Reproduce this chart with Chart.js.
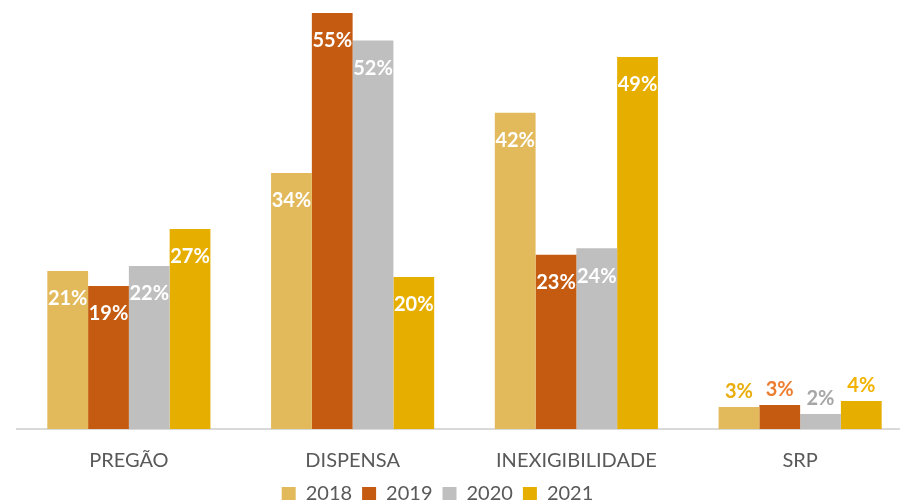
<!DOCTYPE html>
<html>
<head>
<meta charset="utf-8">
<script src="https://cdn.jsdelivr.net/npm/chart.js@4.4.1/dist/chart.umd.min.js"></script>
<style>
  html, body { margin: 0; padding: 0; background: #ffffff; overflow: hidden; }
  #wrap { position: relative; width: 912px; height: 500px; }
</style>
</head>
<body>
<div id="wrap"><canvas id="c"></canvas></div>
<script>
const categories = ['PREGÃO', 'DISPENSA', 'INEXIGIBILIDADE', 'SRP'];
const years = ['2018', '2019', '2020', '2021'];
const v2018 = [20.98, 34.0, 42.0, 2.92];
const v2019 = [18.99, 55.25, 23.15, 3.19];
const v2020 = [21.65, 51.6, 24.0, 1.99];
const v2021 = [26.56, 20.2, 49.4, 3.72];

const barColors = ['#E2BA5C', '#C55A11', '#BFBFBF', '#E6AF00'];
const outsideLabelColors = ['#E9AE0C', '#ED7D31', '#A6A6A6', '#F2B300'];
const FONT = 'Lato, "Noto Sans", sans-serif';
const BASELINE_Y = 429;

const labelPlugin = {
  id: 'barLabels',
  afterDatasetsDraw(chart) {
    const ctx = chart.ctx;
    ctx.save();
    ctx.font = 'bold 20px ' + FONT;
    ctx.textAlign = 'center';
    ctx.textBaseline = 'middle';
    chart.data.datasets.forEach((ds, di) => {
      const meta = chart.getDatasetMeta(di);
      meta.data.forEach((el, i) => {
        const v = ds.data[i];
        const txt = Math.round(v) + '%';
        const h = el.base - el.y;
        if (h > 45) {
          ctx.fillStyle = '#FFFFFF';
          ctx.fillText(txt, el.x, el.y + 28);
        } else {
          ctx.fillStyle = outsideLabelColors[di];
          ctx.fillText(txt, el.x, el.y - 15);
        }
      });
    });
    ctx.restore();
  }
};

const layoutFix = {
  id: 'layoutFix',
  afterLayout(chart) {
    const sx = chart.scales.x;
    if (sx) sx.bottom = chart.height;
  },
  beforeDraw(chart) {
    const lg = chart.legend;
    if (!lg) return;
    const w = lg.right - lg.left;
    const h = lg.bottom - lg.top;
    const cx = 437.5;
    lg.left = cx - w / 2;
    lg.right = cx + w / 2;
    lg.top = 494 - h / 2;
    lg.bottom = lg.top + h;
  }
};

new Chart(document.getElementById('c'), {
  type: 'bar',
  data: {
    labels: categories,
    datasets: [
      { label: years[0], data: v2018, backgroundColor: barColors[0] },
      { label: years[1], data: v2019, backgroundColor: barColors[1] },
      { label: years[2], data: v2020, backgroundColor: barColors[2] },
      { label: years[3], data: v2021, backgroundColor: barColors[3] }
    ]
  },
  options: {
    responsive: true,
    maintainAspectRatio: false,
    animation: false,
    layout: { padding: { left: 17, right: 0, top: 0, bottom: 0 } },
    datasets: {
      bar: {
        categoryPercentage: 0.729,
        barPercentage: 1.0,
        borderWidth: 0
      }
    },
    scales: {
      x: {
        grid: { display: false, drawTicks: false },
        border: { display: true, color: '#D9D9D9', width: 2 },
        ticks: {
          color: '#595959',
          font: { family: FONT, size: 20 },
          padding: 20
        },
        afterFit(scale) {
          const lg = scale.chart.legend;
          const lh = lg ? (lg.height || 0) : 0;
          scale.height = Math.max(0, scale.chart.height - BASELINE_Y - lh);
        }
      },
      y: {
        display: false,
        min: 0,
        max: 56.97
      }
    },
    plugins: {
      legend: {
        position: 'bottom',
        labels: {
          color: '#595959',
          font: { family: FONT, size: 20 },
          boxWidth: 14,
          boxHeight: 14,
          padding: 10
        }
      },
      tooltip: { enabled: false }
    }
  },
  plugins: [labelPlugin, layoutFix]
});
</script>
</body>
</html>
